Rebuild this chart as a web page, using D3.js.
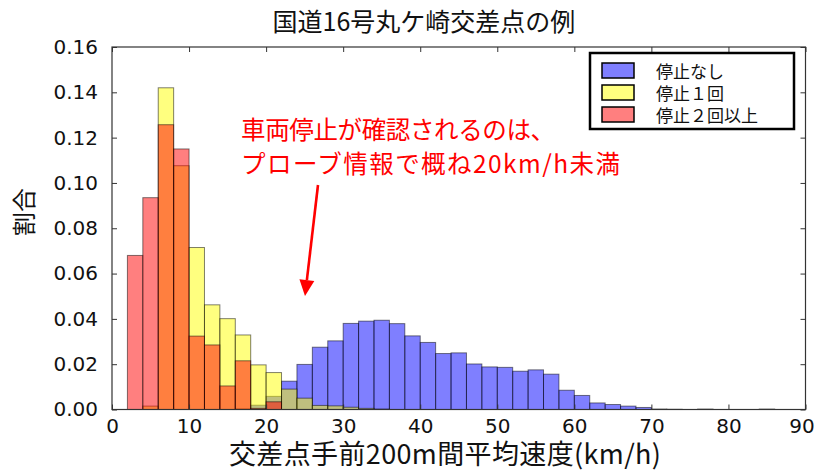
<!DOCTYPE html>
<html>
<head>
<meta charset="utf-8">
<script src="https://cdn.jsdelivr.net/npm/d3@7"></script>
<style>
  html, body { margin: 0; padding: 0; background: #fff; }
  svg { display: block; }
</style>
</head>
<body>
<div id="chart"></div>
<script>
// Speed histogram (2 km/h bins), normalised to a density
const binStarts = [0, 2, 4, 6, 8, 10, 12, 14, 16, 18, 20, 22, 24, 26, 28, 30, 32, 34, 36, 38,
                   40, 42, 44, 46, 48, 50, 52, 54, 56, 58, 60, 62, 64, 66, 68, 70, 72, 74, 76, 78,
                   80, 82, 84, 86, 88];
const binWidth = 2;

// 停止なし
const noStop = [0, 0, 0, 0, 0, 0, 0, 0, 0.0003, 0.0019, 0.0058, 0.0125, 0.0199, 0.0275, 0.0303, 0.0380, 0.0390, 0.0394, 0.0379, 0.0325,
                0.0296, 0.0247, 0.0250, 0.0201, 0.0188, 0.0186, 0.0169, 0.0175, 0.0156, 0.0085, 0.0062, 0.0029, 0.0022, 0.0015, 0.0009, 0.0002, 0.0001, 0, 0.0002, 0,
                0, 0, 0.0002, 0, 0];
// 停止１回
const oneStop = [0, 0, 0.0015, 0.1420, 0.1076, 0.0715, 0.0462, 0.0401, 0.0329, 0.0197, 0.0163, 0.0090, 0.0050, 0.0018, 0.0016, 0.0010, 0.0005, 0.0002, 0, 0,
                 0, 0, 0, 0, 0, 0, 0, 0, 0, 0, 0, 0, 0, 0, 0, 0, 0, 0, 0, 0,
                 0, 0, 0, 0, 0];
// 停止２回以上
const multiStop = [0, 0.0680, 0.0935, 0.1257, 0.1150, 0.0324, 0.0285, 0.0104, 0.0215, 0.0005, 0.0034, 0, 0, 0, 0, 0, 0, 0, 0, 0,
                   0, 0, 0, 0, 0, 0, 0, 0, 0, 0, 0, 0, 0, 0, 0, 0, 0, 0, 0, 0,
                   0, 0, 0, 0, 0];

const seriesNames = ["停止なし", "停止１回", "停止２回以上"];
const seriesColors = ["#0000ff", "#ffff00", "#ff0000"];
const seriesValues = [noStop, oneStop, multiStop];

const xTicks = [0, 10, 20, 30, 40, 50, 60, 70, 80, 90];
const yTicks = [0, 0.02, 0.04, 0.06, 0.08, 0.10, 0.12, 0.14, 0.16];

const titleText = "国道16号丸ケ崎交差点の例";
const xLabel = "交差点手前200m間平均速度(km/h)";
const yLabel = "割合";
const noteLines = ["車両停止が確認されるのは、", "プローブ情報で概ね20km/h未満"];

const W = 817, H = 472;
const plot = { left: 112, right: 805.5, top: 47, bottom: 409.5 };

const svg = d3.select("#chart").append("svg")
  .attr("width", W).attr("height", H)
  .attr("viewBox", `0 0 ${W} ${H}`);

const x = d3.scaleLinear().domain([0, 90]).range([plot.left, plot.right]);
const y = d3.scaleLinear().domain([0, 0.16]).range([plot.bottom, plot.top]);

const cjk = "'Noto Sans CJK JP', 'Noto Sans', sans-serif";
const latin = "'DejaVu Sans', Verdana, sans-serif";

// Bars: drawn in series order so later series sit on top
seriesValues.forEach((vals, si) => {
  const bins = binStarts.map((b, i) => ({ x0: b, x1: b + binWidth, v: vals[i] }))
    .filter(d => d.v > 0);
  svg.append("g").selectAll("rect").data(bins).join("rect")
    .attr("x", d => x(d.x0))
    .attr("y", d => y(d.v))
    .attr("width", d => x(d.x1) - x(d.x0))
    .attr("height", d => y(0) - y(d.v))
    .attr("fill", seriesColors[si])
    .attr("fill-opacity", 0.5)
    .attr("stroke", "#000")
    .attr("stroke-opacity", 0.5)
    .attr("stroke-width", 1);
});

// Axes: ticks inside on all four sides
const tickLen = 5;
const axisColor = "#333";
svg.append("g")
  .attr("transform", `translate(0,${plot.bottom})`)
  .call(d3.axisBottom(x).tickValues(xTicks).tickSizeInner(-tickLen).tickSizeOuter(0).tickPadding(9).tickFormat(d3.format("d")))
  .call(g => g.select(".domain").remove())
  .call(g => g.selectAll(".tick text").filter(d => d === 90).attr("dx", -4));
svg.append("g")
  .attr("transform", `translate(0,${plot.top})`)
  .call(d3.axisTop(x).tickValues(xTicks).tickSizeInner(-tickLen).tickSizeOuter(0).tickFormat(""))
  .call(g => g.select(".domain").remove());
svg.append("g")
  .attr("transform", `translate(${plot.left},0)`)
  .call(d3.axisLeft(y).tickValues(yTicks).tickSizeInner(-tickLen).tickSizeOuter(0).tickPadding(14).tickFormat(d3.format(".2f")))
  .call(g => g.select(".domain").remove());
svg.append("g")
  .attr("transform", `translate(${plot.right},0)`)
  .call(d3.axisRight(y).tickValues(yTicks).tickSizeInner(-tickLen).tickSizeOuter(0).tickFormat(""))
  .call(g => g.select(".domain").remove());

svg.selectAll(".tick line").attr("stroke", axisColor).attr("stroke-width", 1);
svg.selectAll(".tick text")
  .attr("font-family", latin).attr("font-size", 20).attr("fill", "#111");

// Plot frame
svg.append("rect")
  .attr("x", plot.left).attr("y", plot.top)
  .attr("width", plot.right - plot.left).attr("height", plot.bottom - plot.top)
  .attr("fill", "none").attr("stroke", axisColor).attr("stroke-width", 1.2);

// Title and axis labels
svg.append("text")
  .attr("x", 424).attr("y", 31)
  .attr("text-anchor", "middle")
  .attr("font-family", cjk).attr("font-size", 25).attr("fill", "#111")
  .text(titleText);

svg.append("text")
  .attr("x", 445).attr("y", 464)
  .attr("text-anchor", "middle")
  .attr("font-family", cjk).attr("font-size", 27).attr("fill", "#111")
  .attr("textLength", 432).attr("lengthAdjust", "spacing")
  .text(xLabel);

svg.append("text")
  .attr("transform", `translate(33,212) rotate(-90)`)
  .attr("text-anchor", "middle")
  .attr("font-family", cjk).attr("font-size", 24).attr("fill", "#111")
  .text(yLabel);

// Legend
const legend = svg.append("g");
legend.append("rect")
  .attr("x", 590).attr("y", 53).attr("width", 204).attr("height", 76)
  .attr("fill", "#fff").attr("stroke", "#000").attr("stroke-width", 2.5);
seriesNames.forEach((name, i) => {
  const cy = 70.5 + i * 22;
  legend.append("rect")
    .attr("x", 602).attr("y", cy - 7.5).attr("width", 32).attr("height", 15)
    .attr("fill", seriesColors[i]).attr("fill-opacity", 0.5)
    .attr("stroke", "#000").attr("stroke-width", 1.5);
  legend.append("text")
    .attr("x", 656).attr("y", cy)
    .attr("dominant-baseline", "central")
    .attr("font-family", cjk).attr("font-size", 17).attr("fill", "#111")
    .text(name);
});

// Annotation text and arrow
const note = svg.append("g");
const noteWidths = [314, 379];
noteLines.forEach((line, i) => {
  note.append("text")
    .attr("x", 241).attr("y", 139 + i * 34)
    .attr("font-family", cjk).attr("font-size", 24.5).attr("fill", "#ff0000")
    .attr("textLength", noteWidths[i]).attr("lengthAdjust", "spacing")
    .text(line);
});
const arrowFrom = [318, 185], arrowTo = [305, 296];
const ang = Math.atan2(arrowTo[1] - arrowFrom[1], arrowTo[0] - arrowFrom[0]);
const headLen = 16, headHalf = 7.5;
const baseX = arrowTo[0] - headLen * Math.cos(ang), baseY = arrowTo[1] - headLen * Math.sin(ang);
note.append("line")
  .attr("x1", arrowFrom[0]).attr("y1", arrowFrom[1])
  .attr("x2", baseX).attr("y2", baseY)
  .attr("stroke", "#ff0000").attr("stroke-width", 2.6);
note.append("path")
  .attr("d", d3.line()([
    arrowTo,
    [baseX + headHalf * Math.sin(ang), baseY - headHalf * Math.cos(ang)],
    [baseX - headHalf * Math.sin(ang), baseY + headHalf * Math.cos(ang)]
  ]) + "Z")
  .attr("fill", "#ff0000");
</script>
</body>
</html>
